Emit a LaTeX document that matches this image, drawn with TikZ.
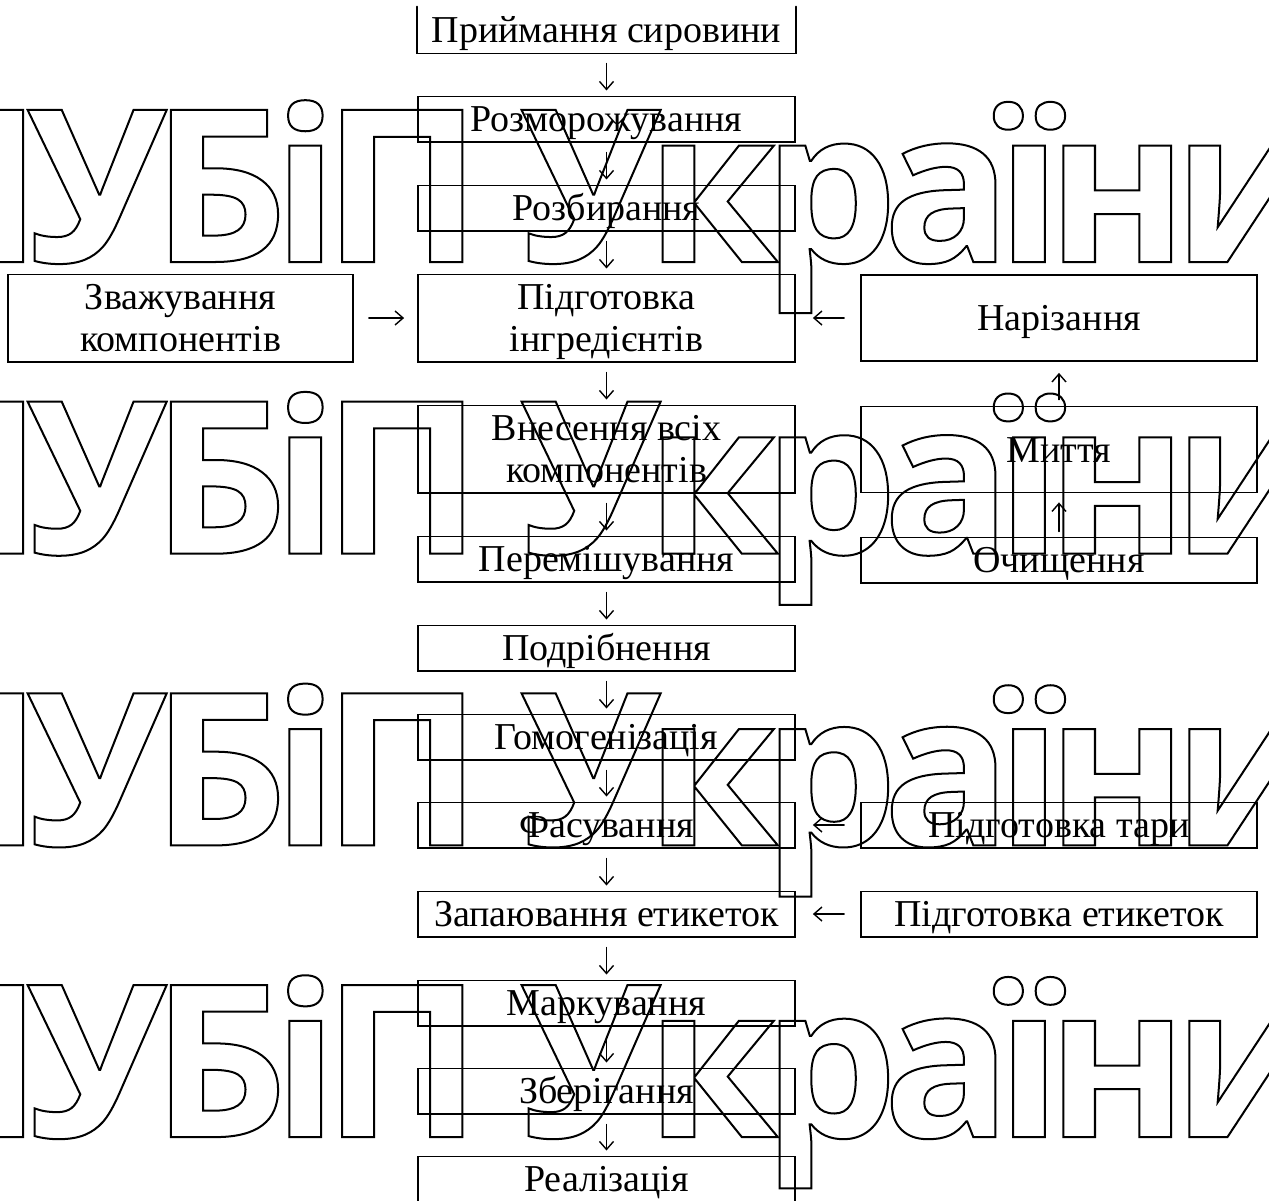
\documentclass[tikz,border=0pt]{standalone}
\usepackage{fontspec}
\setmainfont{Liberation Serif}
\newfontfamily\wmfont{Open Sans}[LetterSpace=-7]
\usepackage{tikz}
\usetikzlibrary{positioning, arrows.meta}

% outline (stroked, unfilled) glyphs
\newcommand{\outlinetext}[1]{%
    \special{pdf:literal direct 1 Tr 1 w}#1\special{pdf:literal direct 0 Tr}}
% two centred lines with fixed top and bottom
\newcommand{\twoline}[2]{\rule{0pt}{17.6pt}#1\\#2\rule[-5pt]{0pt}{5pt}}

\begin{document}
\begin{tikzpicture}[
    x=0.5pt, y=-0.5pt,
    font=\fontsize{19}{21}\selectfont,
    >={Straight Barb[length=4pt,width=7pt]},
    every path/.style={line cap=round},
]
% ── Styles ──
\tikzset{
    stepbox/.style={
        draw, rectangle, line width=0.9pt,
        align=center, inner sep=0pt,
        minimum height=22pt,
        text height=17.6pt, text depth=5pt,
    },
    mainbox/.style={stepbox, minimum width=188.5pt},
    sidebox/.style={stepbox, minimum width=198pt},
    tallbox/.style={minimum height=43pt},
    twolines/.style={tallbox, text height=, text depth=},
    flow/.style={->, line width=0.7pt},
    downflow/.style={flow, shorten <=5pt, shorten >=2.5pt},
    sideflow/.style={flow, shorten <=8pt, shorten >=8.5pt},
    watermark/.style={
        inner sep=0pt, anchor=base west,
        font=\wmfont\bfseries\fontsize{106.5}{110}\selectfont,
    },
}
\useasboundingbox (0,0) rectangle (1269,1200);

% ── Watermark ──
\foreach \r in {0,...,3}
    \node[watermark] (wm\r) at (-121, 262+291.7*\r) {\outlinetext{НУБіП України}};

% ── Main column ──
\node[mainbox, draw=none] (recv) at (606.5,30) {Приймання сировини};
\draw[line width=0.9pt] (recv.north west) -- (recv.south west)
    -- (recv.south east) -- (recv.north east);
\node[mainbox] (thaw) at (606.5,119) {Розморожування};
\node[mainbox] (split) at (606.5,208) {Розбирання};
\node[mainbox, twolines] (prep) at (606.5,318) {\twoline{Підготовка}{інгредієнтів}};
\node[mainbox, twolines] (load) at (606.5,449) {\twoline{Внесення всіх}{компонентів}};
\node[mainbox] (mix) at (606.5,559) {Перемішування};
\node[mainbox] (grind) at (606.5,648) {Подрібнення};
\node[mainbox] (homog) at (606.5,737) {Гомогенізація};
\node[mainbox] (pack) at (606.5,825) {Фасування};
\node[mainbox] (seal) at (606.5,914) {Запаювання етикеток};
\node[mainbox] (mark) at (606.5,1003) {Маркування};
\node[mainbox] (store) at (606.5,1091) {Зберігання};
\node[mainbox] (sell) at (606.5,1179) {Реалізація};

% ── Side branches ──
\node[stepbox, twolines, minimum width=172.5pt] (weigh) at (180.5,318) {\twoline{Зважування}{компонентів}};
\node[sidebox, tallbox] (slice) at (1059,318) {Нарізання};
\node[sidebox, tallbox] (wash) at (1059,449.5) {Миття};
\node[sidebox] (clean) at (1059,560) {Очищення};
\node[sidebox] (tare) at (1059,825) {Підготовка тари};
\node[sidebox] (labels) at (1059,914) {Підготовка етикеток};

% ── Flow arrows ──
\foreach \a/\b in {recv/thaw, thaw/split, split/prep, prep/load, load/mix,
        mix/grind, grind/homog, homog/pack, pack/seal, seal/mark,
        mark/store, store/sell}
    \draw[downflow] (\a) -- (\b);

\draw[flow, shorten <=7.5pt, shorten >=6.5pt] (weigh) -- (prep);
\draw[sideflow] (slice) -- (prep);
\draw[sideflow] (tare) -- (pack);
\draw[sideflow] (labels) -- (seal);
\draw[flow, shorten <=3pt, shorten >=5.5pt] (wash) -- (slice);
\draw[flow, shorten <=2.5pt, shorten >=4.5pt] (clean) -- (wash);

\end{tikzpicture}
\end{document}
